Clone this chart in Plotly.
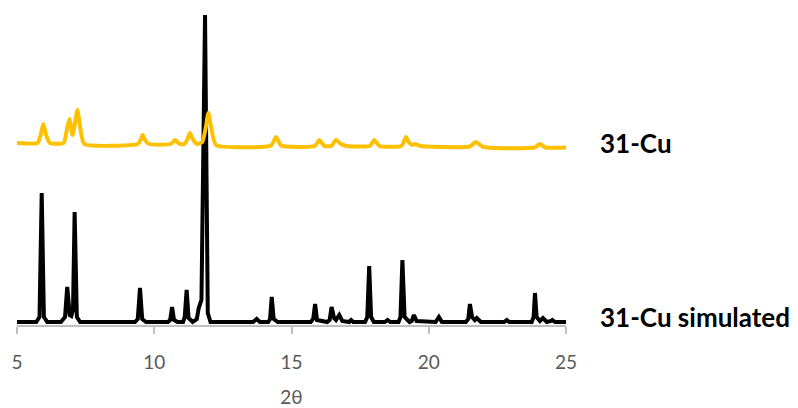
import plotly.graph_objects as go

# Simulated pattern (black)
sim_x = [5.0, 5.7, 5.82, 5.90, 5.98, 6.1, 6.6, 6.75, 6.83, 6.92, 6.98, 7.04, 7.10, 7.18, 7.3,
         9.3, 9.40, 9.48, 9.56, 9.7, 10.5, 10.58, 10.65, 10.72, 10.85, 11.05, 11.11, 11.18, 11.25,
         11.4, 11.55, 11.62, 11.72, 11.85, 11.95, 12.05, 13.6, 13.73, 13.85, 14.15, 14.22, 14.28,
         14.35, 14.5, 15.7, 15.79, 15.86, 15.93, 16.3, 16.39, 16.46, 16.55, 16.62, 16.74, 16.85,
         17.1, 17.17, 17.25, 17.68, 17.76, 17.83, 17.9, 18.0, 18.4, 18.5, 18.6, 18.9, 18.97, 19.04,
         19.12, 19.3, 19.38, 19.46, 19.56, 20.25, 20.37, 20.48, 21.35, 21.44, 21.50, 21.58, 21.68,
         21.75, 21.9, 22.75, 22.84, 22.93, 23.75, 23.82, 23.87, 23.93, 24.05, 24.16, 24.3, 24.45,
         24.5, 24.6, 25.0]
sim_y = [3, 3, 8, 132, 8, 3, 3, 8, 38, 10, 9, 15, 113, 8, 3,
         3, 6, 37, 6, 3, 3, 5, 18, 5, 3, 3, 8, 35, 7,
         3, 6, 17, 25, 310, 12, 3, 3, 6, 3, 3, 6, 28,
         6, 3, 3, 6, 21, 5, 3, 5, 18, 7, 5, 10, 4,
         3, 5, 3, 3, 8, 59, 8, 3, 3, 5, 3, 3, 8, 65,
         8, 3, 4, 10, 4, 3, 8, 3, 3, 6, 21, 8, 5,
         7, 3, 3, 5, 3, 3, 8, 32, 8, 4, 7, 3, 4,
         5, 3, 3]

# Experimental pattern (orange)
exp_x = [5.0, 5.75, 5.86, 5.96, 6.06, 6.2, 6.7, 6.82, 6.91, 7.02, 7.10, 7.20, 7.30, 7.45,
         9.4, 9.50, 9.58, 9.66, 9.8, 10.6, 10.76, 10.92, 11.1, 11.21, 11.30, 11.40, 11.55, 11.75,
         11.88, 11.97, 12.07, 12.25, 14.25, 14.44, 14.62, 15.85, 16.01, 16.2, 16.45, 16.62, 16.8,
         17.0, 17.85, 18.02, 18.2, 19.0, 19.09, 19.17, 19.27, 19.4, 19.5, 19.7, 21.5, 21.71, 22.0,
         23.85, 24.05, 24.25, 25.0]
exp_y = [182, 182, 190, 201, 190, 182, 182, 196, 206, 190, 200, 215, 198, 181,
         181, 185, 190, 185, 181, 181, 185, 181, 181, 186, 192, 186, 181, 183,
         198, 212, 198, 180, 179.5, 188, 179.5, 179, 185, 179, 179, 185, 181,
         179, 179, 185, 179, 179, 183, 188, 183, 180, 181, 179, 178.5, 183, 178,
         177.5, 181, 177.5, 177.5]

tick_vals = [5, 10, 15, 20, 25]
tick_text = ["5", "10", "15", "20", "25"]
label_exp = "31-Cu"
label_sim = "31-Cu simulated"
x_title = "2θ"

fig = go.Figure()
fig.add_trace(go.Scatter(x=sim_x, y=sim_y, mode="lines",
                         line=dict(color="#000000", width=4), showlegend=False))
fig.add_trace(go.Scatter(x=exp_x, y=exp_y, mode="lines",
                         line=dict(color="#FFC000", width=4, shape="spline", smoothing=0.5),
                         showlegend=False))

fig.update_layout(
    width=790, height=400,
    margin=dict(l=9, r=232, t=0, b=83),
    paper_bgcolor="white", plot_bgcolor="white",
    font=dict(family="Lato, Liberation Sans, sans-serif"),
    xaxis=dict(range=[5, 25], tickvals=tick_vals, ticktext=tick_text,
               showgrid=False, zeroline=False, showline=True,
               linecolor="#BFBFBF", linewidth=1.5, ticks="outside",
               tickcolor="#BFBFBF", ticklen=7, tickwidth=1.5,
               tickfont=dict(size=19, color="#595959"),
               ticklabelstandoff=12, automargin=False,
               title=dict(text=x_title, font=dict(size=19, color="#595959"), standoff=20)),
    yaxis=dict(range=[0, 317], visible=False),
    annotations=[
        dict(text="<b>%s</b>" % label_exp, x=1.058, xref="paper", xanchor="left",
             y=325 - 143, yref="y", yanchor="middle", showarrow=False,
             font=dict(size=26, color="#000000")),
        dict(text="<b>%s</b>" % label_sim, x=1.058, xref="paper", xanchor="left",
             y=325 - 317, yref="y", yanchor="middle", showarrow=False,
             font=dict(size=26, color="#000000")),
    ],
)

fig.write_html("out.html")
